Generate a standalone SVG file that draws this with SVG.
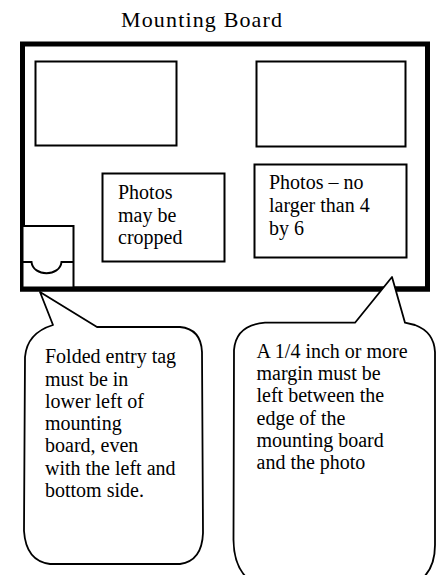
<svg xmlns="http://www.w3.org/2000/svg" width="437" height="575" viewBox="0 0 437 575">
  <style>
    .t { font-family: "Liberation Serif", "Times New Roman", serif; font-size: 20px; fill: #000; }
    .photo { fill: #fff; stroke: #000; stroke-width: 2; }
    .callout { fill: #fff; stroke: #000; stroke-width: 1.8; stroke-linejoin: round; }
  </style>
  <rect x="0" y="0" width="437" height="575" fill="#fff"/>

  <g id="title">
    <text class="t" x="121" y="26.5" style="font-size:22px" textLength="161" lengthAdjust="spacing">Mounting Board</text>
  </g>

  <g id="board">
    <rect x="22.5" y="44" width="405" height="245" fill="#fff" stroke="#000" stroke-width="5"/>
  </g>

  <g id="photo-top-left">
    <rect class="photo" x="35.5" y="61.5" width="141" height="84"/>
  </g>

  <g id="photo-top-right">
    <rect class="photo" x="256.5" y="61.5" width="149" height="85"/>
  </g>

  <g id="photo-cropped">
    <rect class="photo" x="102.5" y="173.5" width="122" height="88"/>
    <text class="t" x="118" y="199">Photos</text>
    <text class="t" x="118" y="221.5">may be</text>
    <text class="t" x="118" y="243.5">cropped</text>
  </g>

  <g id="photo-size">
    <rect class="photo" x="254.5" y="164.5" width="152" height="93"/>
    <text class="t" x="269" y="189">Photos – no</text>
    <text class="t" x="269" y="212">larger than 4</text>
    <text class="t" x="269" y="234.5">by 6</text>
  </g>

  <g id="entry-tag">
    <rect x="22.5" y="226" width="51" height="63" fill="#fff" stroke="#000" stroke-width="2"/>
    <path d="M22.5,262 H31.5 C33,277 60,277 61.5,262 H73.5" fill="none" stroke="#000" stroke-width="2"/>
    <line x1="20" y1="289" x2="430" y2="289" stroke="#000" stroke-width="5"/>
  </g>

  <g id="callout-left">
    <path class="callout" d="M40,292 L97,327 L180,327 Q201,329 202,352 L203,533 Q202,561 180,564 L50,564 Q26,561 24,531 L25,357 Q27,333 53,325 Z"/>
    <text class="t" x="45" y="363.3">Folded entry tag</text>
    <text class="t" x="45" y="385.5">must be in</text>
    <text class="t" x="45" y="407.5">lower left of</text>
    <text class="t" x="45" y="429.7">mounting</text>
    <text class="t" x="45" y="452">board, even</text>
    <text class="t" x="45" y="474.5">with the left and</text>
    <text class="t" x="45" y="496.7">bottom side.</text>
  </g>

  <g id="callout-right">
    <path class="callout" d="M392,277 L405,322.7 L415,325 Q434,332 435,352 L435,545 Q435,576 410,586 L260,586 Q234,576 233.5,540 L234,350 Q236,325 265,322.7 L355,322.7 Z"/>
    <text class="t" x="256.5" y="357.5">A 1/4 inch or more</text>
    <text class="t" x="256.5" y="380">margin must be</text>
    <text class="t" x="256.5" y="402">left between the</text>
    <text class="t" x="256.5" y="424.5">edge of the</text>
    <text class="t" x="256.5" y="446.7">mounting board</text>
    <text class="t" x="256.5" y="468.5">and the photo</text>
  </g>
</svg>
